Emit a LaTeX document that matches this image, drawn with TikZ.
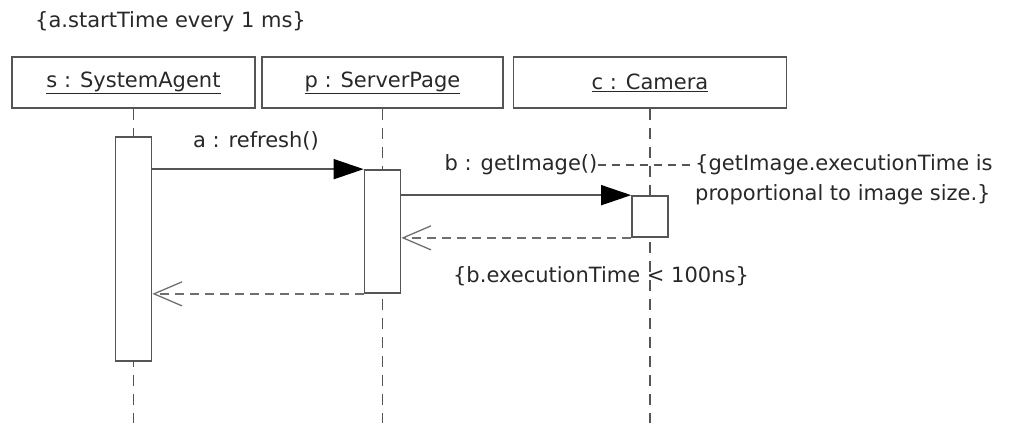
\documentclass[tikz,border=0pt]{standalone}
\usepackage{fontspec}
\setmainfont{DejaVu Sans}
\usetikzlibrary{arrows.meta, positioning}
\definecolor{SeqLine}{RGB}{85,85,85}
\definecolor{SeqText}{RGB}{40,40,40}

\begin{document}
\begin{tikzpicture}[x=1pt, y=-1pt,
          obj/.style={rectangle, draw=SeqLine, line width=1.7pt,
                      minimum height=51pt, inner sep=0pt,
                      font=\fontsize{21}{25}\selectfont, text=SeqText},
          act/.style={rectangle, draw=SeqLine, fill=white, line width=1.7pt,
                      minimum width=36pt, inner sep=0pt},
          life/.style={draw=SeqLine, line width=1.4pt, dash pattern=on 11pt off 8pt},
          lbl/.style={font=\fontsize{21}{25}\selectfont, text=SeqText, inner sep=0pt},
          msg/.style={draw=SeqLine, line width=1.6pt,
                      -{Triangle[length=30pt, width=20pt, color=black, fill=black]}},
          ret/.style={draw=SeqLine!85, line width=1.8pt, dash pattern=on 9pt off 6pt,
                      -{Straight Barb[length=28pt, width=24pt, line width=1.3pt]}},
          anchorline/.style={draw=SeqLine, line width=1.6pt, dash pattern=on 8pt off 6pt}
        ]
        \useasboundingbox (0,0) rectangle (1011,423);

        \node[lbl, anchor=west] (timing) at (35,22)
              {\{a.startTime every 1 ms\}};

        % objects
        \node[obj, minimum width=243pt] (sys) at (133.5,82.5) {\underline{s : SystemAgent}};
        \node[obj, minimum width=241pt] (srv) at (382.5,82.5) {\underline{p : ServerPage}};
        \node[obj, minimum width=273pt] (cam) at (650,82.5) {\underline{c : Camera}};

        \foreach \o in {sys, srv, cam} {
          \coordinate (\o-end) at (\o.south |- 0,423);
          \draw[life] (\o.south) -- (\o-end);
        }

        % activations
        \node[act, minimum height=224pt] (sysAct) at (sys.south |- 0,249) {};
        \node[act, minimum height=123pt] (srvAct) at (srv.south |- 0,231.5) {};
        \node[act, minimum height=41pt] (camAct) at (cam.south |- 0,216.5) {};

        % a : refresh()
        \draw[msg] (sysAct.east |- srvAct.north) -- (srvAct.north west);
        \node[lbl] (refresh) at (256,141) {a : refresh()};

        % b : getImage()
        \draw[msg] (srvAct.east |- camAct.north) -- (camAct.north west);
        \node[lbl] (getImg) at (521,165) {b : getImage()};

        \draw[ret] (camAct.south west) -- (srvAct.east |- camAct.south);
        \draw[ret] (srvAct.south west) -- (sysAct.east |- srvAct.south);

        % constraints
        \node[lbl, anchor=west, align=left, font=\fontsize{21}{30}\selectfont]
              (note) at (695,180)
              {\{getImage.executionTime is\\proportional to image size.\}};
        \draw[anchorline] (getImg.east) -- (getImg.east -| note.west);

        \node[lbl] (limit) at (601,276) {\{b.executionTime < 100ns\}};
      \end{tikzpicture}
\end{document}
